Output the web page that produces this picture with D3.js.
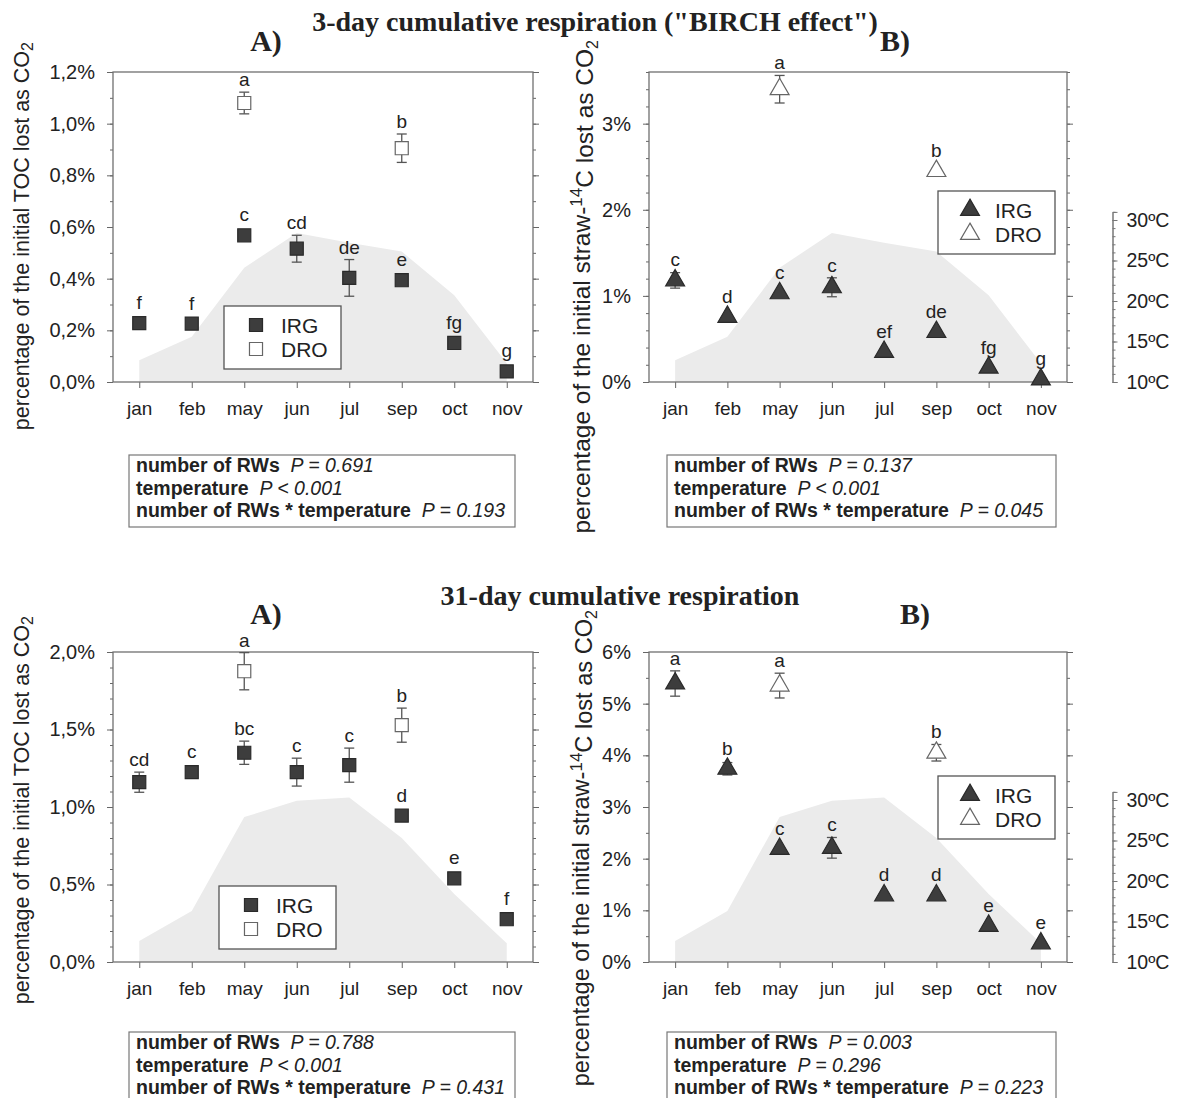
<!DOCTYPE html>
<html>
<head>
<meta charset="utf-8">
<script src="https://cdn.jsdelivr.net/npm/d3@7"></script>
<style>
  body { margin: 0; background: #fff; }
  svg text { font-family: "Liberation Sans", Arial, sans-serif; fill: #222; }
  .title { font-family: "Liberation Serif", serif; font-weight: bold; }
</style>
</head>
<body>
<div id="chart"></div>
<script>
// months sampled
var months = ["jan", "feb", "may", "jun", "jul", "sep", "oct", "nov"];

// temperature (shaded area), ºC
var temp3day = [12.7, 15.6, 24.1, 28.4, 27.2, 26.1, 20.7, 12.3];
var temp31day = [12.6, 16.3, 27.9, 29.9, 30.3, 25.3, 18.4, 12.3];

// 3-day, % of initial TOC
var toc3Irg = [0.228, 0.226, 0.568, 0.516, 0.403, 0.394, 0.151, 0.041];
var toc3IrgErr = [0.02, 0.01, 0.01, 0.052, 0.071, 0.01, 0.01, 0.01];
var toc3Dro = [null, null, 1.08, null, null, 0.905, null, null];
var toc3DroErr = [null, null, 0.042, null, null, 0.055, null, null];
var toc3IrgLetters = ["f", "f", "c", "cd", "de", "e", "fg", "g"];
var toc3DroLetters = [null, null, "a", null, null, "b", null, null];

// 3-day, % of initial straw-14C
var straw3Irg = [1.18, 0.757, 1.03, 1.10, 0.35, 0.58, 0.167, 0.03];
var straw3IrgErr = [0.09, 0.02, 0.02, 0.11, 0.02, 0.02, 0.02, 0.02];
var straw3Dro = [null, null, 3.40, null, null, 2.45, null, null];
var straw3DroErr = [null, null, 0.16, null, null, 0.03, null, null];
var straw3IrgLetters = ["c", "d", "c", "c", "ef", "de", "fg", "g"];
var straw3DroLetters = [null, null, "a", null, null, "b", null, null];

// 31-day, % of initial TOC
var toc31Irg = [1.16, 1.225, 1.35, 1.225, 1.27, 0.945, 0.54, 0.276];
var toc31IrgErr = [0.065, 0.02, 0.075, 0.09, 0.11, 0.01, 0.01, 0.01];
var toc31Dro = [null, null, 1.876, null, null, 1.528, null, null];
var toc31DroErr = [null, null, 0.12, null, null, 0.11, null, null];
var toc31IrgLetters = ["cd", "c", "bc", "c", "c", "d", "e", "f"];
var toc31DroLetters = [null, null, "a", null, null, "b", null, null];

// 31-day, % of initial straw-14C
var straw31Irg = [5.39, 3.74, 2.19, 2.21, 1.29, 1.29, 0.70, 0.36];
var straw31IrgErr = [0.245, 0.12, 0.02, 0.2, 0.02, 0.02, 0.02, 0.02];
var straw31Dro = [null, null, 5.35, null, null, 4.05, null, null];
var straw31DroErr = [null, null, 0.24, null, null, 0.16, null, null];
var straw31IrgLetters = ["a", "b", "c", "c", "d", "d", "e", "e"];
var straw31DroLetters = [null, null, "a", null, null, "b", null, null];

// statistics
var stats3Toc = ["= 0.691", "< 0.001", "= 0.193"];
var stats3Straw = ["= 0.137", "< 0.001", "= 0.045"];
var stats31Toc = ["= 0.788", "< 0.001", "= 0.431"];
var stats31Straw = ["= 0.003", "= 0.296", "= 0.223"];
var statTerms = ["number of RWs", "temperature", "number of RWs * temperature"];

var tempTicks = [10, 15, 20, 25, 30];

var svg = d3.select("#chart")
  .append("svg")
  .attr("width", 1177)
  .attr("height", 1098);

var commaFmt = function(d) { return d3.format(".1f")(d).replace(".", ",") + "%"; };
var intFmt = function(d) { return d + "%"; };
var pxPerDeg = 8.1;

function drawPanel(p) {
  var g = svg.append("g").attr("transform", `translate(${p.left}, ${p.top})`);
  var w = p.width, h = p.height;

  var x = d3.scalePoint().domain(months).range([0, w]).padding(0.5);
  var y = d3.scaleLinear().domain([0, p.ymax]).range([h, 0]);
  var t = d3.scaleLinear().domain([10, 30]).range([h, h - 20 * pxPerDeg]);

  // temperature shading
  var area = d3.area()
    .x(function(d, i) { return x(months[i]); })
    .y0(h)
    .y1(function(d) { return t(d); });
  g.append("path").datum(p.temp)
    .attr("d", area)
    .attr("fill", "#ebebeb");

  // axes
  var major = d3.range(0, p.ymax + 1e-9, p.major);
  var minor = d3.range(0, p.ymax + 1e-9, p.minor);

  g.append("g").call(d3.axisLeft(y).tickValues(minor).tickSize(3).tickFormat(""));
  g.append("g").call(d3.axisLeft(y).tickValues(major).tickSize(6).tickPadding(12).tickFormat(p.fmt))
    .selectAll("text").style("font-size", "20px");
  g.append("g").attr("transform", `translate(${w},0)`)
    .call(d3.axisRight(y).tickValues(minor).tickSize(3).tickFormat(""));
  g.append("g").attr("transform", `translate(${w},0)`)
    .call(d3.axisRight(y).tickValues(major).tickSize(6).tickFormat(""));
  g.append("g").attr("transform", `translate(0,${h})`)
    .call(d3.axisBottom(x).tickSize(6).tickPadding(14))
    .selectAll("text").style("font-size", "19px");
  g.selectAll(".domain").remove();
  g.selectAll(".tick line").attr("stroke", "#666");

  g.append("rect")
    .attr("width", w).attr("height", h)
    .attr("fill", "none").attr("stroke", "#707070").attr("stroke-width", 1.3);

  var sym = p.marker == "square" ? d3.symbolSquare : d3.symbolTriangle;
  var symSize = p.marker == "square" ? 170 : 155;

  function series(vals, errs, letters, filled) {
    vals.forEach(function(v, i) {
      if (v == null) return;
      var cx = x(months[i]);
      var e = errs[i] || 0;
      g.append("line")
        .attr("x1", cx).attr("x2", cx)
        .attr("y1", y(v - e)).attr("y2", y(v + e))
        .attr("stroke", "#555").attr("stroke-width", 1.3);
      [v - e, v + e].forEach(function(c) {
        g.append("line")
          .attr("x1", cx - 5).attr("x2", cx + 5)
          .attr("y1", y(c)).attr("y2", y(c))
          .attr("stroke", "#555").attr("stroke-width", 1.3);
      });
      g.append("path")
        .attr("d", d3.symbol(sym, symSize)())
        .attr("transform", `translate(${cx},${y(v)})`)
        .attr("fill", filled ? "#3d3d3d" : "#fff")
        .attr("stroke", filled ? "#2a2a2a" : "#666")
        .attr("stroke-width", 1.2);
      var top = Math.min(y(v + e), y(v) - 8);
      g.append("text")
        .attr("x", cx).attr("y", top - 6)
        .attr("text-anchor", "middle")
        .style("font-size", "19px")
        .text(letters[i]);
    });
  }
  series(p.irg, p.irgErr, p.irgLetters, true);
  series(p.dro, p.droErr, p.droLetters, false);

  // legend
  var lg = g.append("g").attr("transform", `translate(${p.legend[0]},${p.legend[1]})`);
  lg.append("rect").attr("width", 117).attr("height", 63)
    .attr("fill", "#fff").attr("stroke", "#555").attr("stroke-width", 1.3);
  [["IRG", true], ["DRO", false]].forEach(function(d, i) {
    lg.append("path")
      .attr("d", d3.symbol(sym, symSize)())
      .attr("transform", `translate(32,${19 + i * 24})`)
      .attr("fill", d[1] ? "#3d3d3d" : "#fff")
      .attr("stroke", d[1] ? "#2a2a2a" : "#666")
      .attr("stroke-width", 1.2);
    lg.append("text").attr("x", 57).attr("y", 19 + i * 24)
      .attr("dy", "0.36em")
      .style("font-size", "21px")
      .text(d[0]);
  });

  // y axis label
  var lab = svg.append("text")
    .attr("transform", `translate(${p.labelX},${p.labelTop}) rotate(-90)`)
    .attr("text-anchor", "end")
    .attr("dy", "0.35em")
    .style("font-size", p.labelSize + "px");
  if (p.straw) {
    lab.append("tspan").text("percentage of the initial straw-");
    lab.append("tspan").attr("dy", "-0.45em").style("font-size", "17px").text("14");
    lab.append("tspan").attr("dy", "0.45em").text("C lost as CO");
  } else {
    lab.append("tspan").text("percentage of the initial TOC lost as CO");
  }
  lab.append("tspan").attr("dy", "0.3em").style("font-size", "16px").text("2");

  // temperature axis
  if (p.tempAxis) {
    var ta = svg.append("g").attr("transform", `translate(1112.5,${p.top})`);
    var ts = d3.scaleLinear().domain([10, 31]).range([h, h - 21 * pxPerDeg]);
    ta.append("g").call(d3.axisRight(ts).tickValues(d3.range(10, 32, 1)).tickSize(3).tickFormat(""));
    ta.append("g").call(d3.axisRight(ts).tickValues(tempTicks).tickSize(5).tickPadding(9)
        .tickFormat(function(d) { return d + "ºC"; }))
      .selectAll("text").style("font-size", "19.5px");
    ta.selectAll("path.domain").attr("stroke", "#777");
    ta.selectAll(".tick line").attr("stroke", "#777");
  }

  // statistics box
  var sb = svg.append("g").attr("transform", `translate(${p.stats[0]},${p.stats[1]})`);
  sb.append("rect").attr("width", p.stats[2]).attr("height", 72)
    .attr("fill", "#fff").attr("stroke", "#777").attr("stroke-width", 1.2);
  statTerms.forEach(function(term, i) {
    var tx = sb.append("text").attr("x", 7).attr("y", 17 + i * 22.5)
      .style("font-size", "19.5px");
    tx.append("tspan").style("font-weight", "bold").text(term + "\u00a0\u00a0");
    tx.append("tspan").style("font-style", "italic").text("P " + p.statVals[i]);
  });
}

var panels = [
  { left: 113, top: 72, width: 420, height: 310, ymax: 1.2, major: 0.2, minor: 0.1, fmt: commaFmt,
    temp: temp3day, irg: toc3Irg, irgErr: toc3IrgErr, dro: toc3Dro, droErr: toc3DroErr,
    irgLetters: toc3IrgLetters, droLetters: toc3DroLetters, marker: "square",
    legend: [111, 234], labelX: 21, labelTop: 42, labelSize: 21.5, straw: false, tempAxis: false,
    stats: [129, 455, 386], statVals: stats3Toc },
  { left: 649, top: 72, width: 418, height: 310, ymax: 3.6, major: 1, minor: 0.2, fmt: intFmt,
    temp: temp3day, irg: straw3Irg, irgErr: straw3IrgErr, dro: straw3Dro, droErr: straw3DroErr,
    irgLetters: straw3IrgLetters, droLetters: straw3DroLetters, marker: "triangle",
    legend: [289, 119], labelX: 581, labelTop: 40, labelSize: 24.5, straw: true, tempAxis: true,
    stats: [667, 455, 389], statVals: stats3Straw },
  { left: 113, top: 652, width: 420, height: 310, ymax: 2.0, major: 0.5, minor: 0.1, fmt: commaFmt,
    temp: temp31day, irg: toc31Irg, irgErr: toc31IrgErr, dro: toc31Dro, droErr: toc31DroErr,
    irgLetters: toc31IrgLetters, droLetters: toc31DroLetters, marker: "square",
    legend: [106, 234], labelX: 21, labelTop: 616, labelSize: 21.5, straw: false, tempAxis: false,
    stats: [129, 1032, 386], statVals: stats31Toc },
  { left: 649, top: 652, width: 418, height: 310, ymax: 6, major: 1, minor: 0.5, fmt: intFmt,
    temp: temp31day, irg: straw31Irg, irgErr: straw31IrgErr, dro: straw31Dro, droErr: straw31DroErr,
    irgLetters: straw31IrgLetters, droLetters: straw31DroLetters, marker: "triangle",
    legend: [289, 124], labelX: 581, labelTop: 610, labelSize: 23.6, straw: true, tempAxis: true,
    stats: [667, 1032, 389], statVals: stats31Straw }
];

panels.forEach(drawPanel);

// titles
svg.append("text").attr("class", "title").attr("x", 595).attr("y", 31)
  .attr("text-anchor", "middle").style("font-size", "28px")
  .text("3-day cumulative respiration (\"BIRCH effect\")");
svg.append("text").attr("class", "title").attr("x", 620).attr("y", 605)
  .attr("text-anchor", "middle").style("font-size", "28px")
  .text("31-day cumulative respiration");
[[266, 51], [895, 51], [266, 624], [915, 624]].forEach(function(d, i) {
  svg.append("text").attr("class", "title").attr("x", d[0]).attr("y", d[1])
    .attr("text-anchor", "middle").style("font-size", "30px")
    .text(i % 2 == 0 ? "A)" : "B)");
});
</script>
</body>
</html>
